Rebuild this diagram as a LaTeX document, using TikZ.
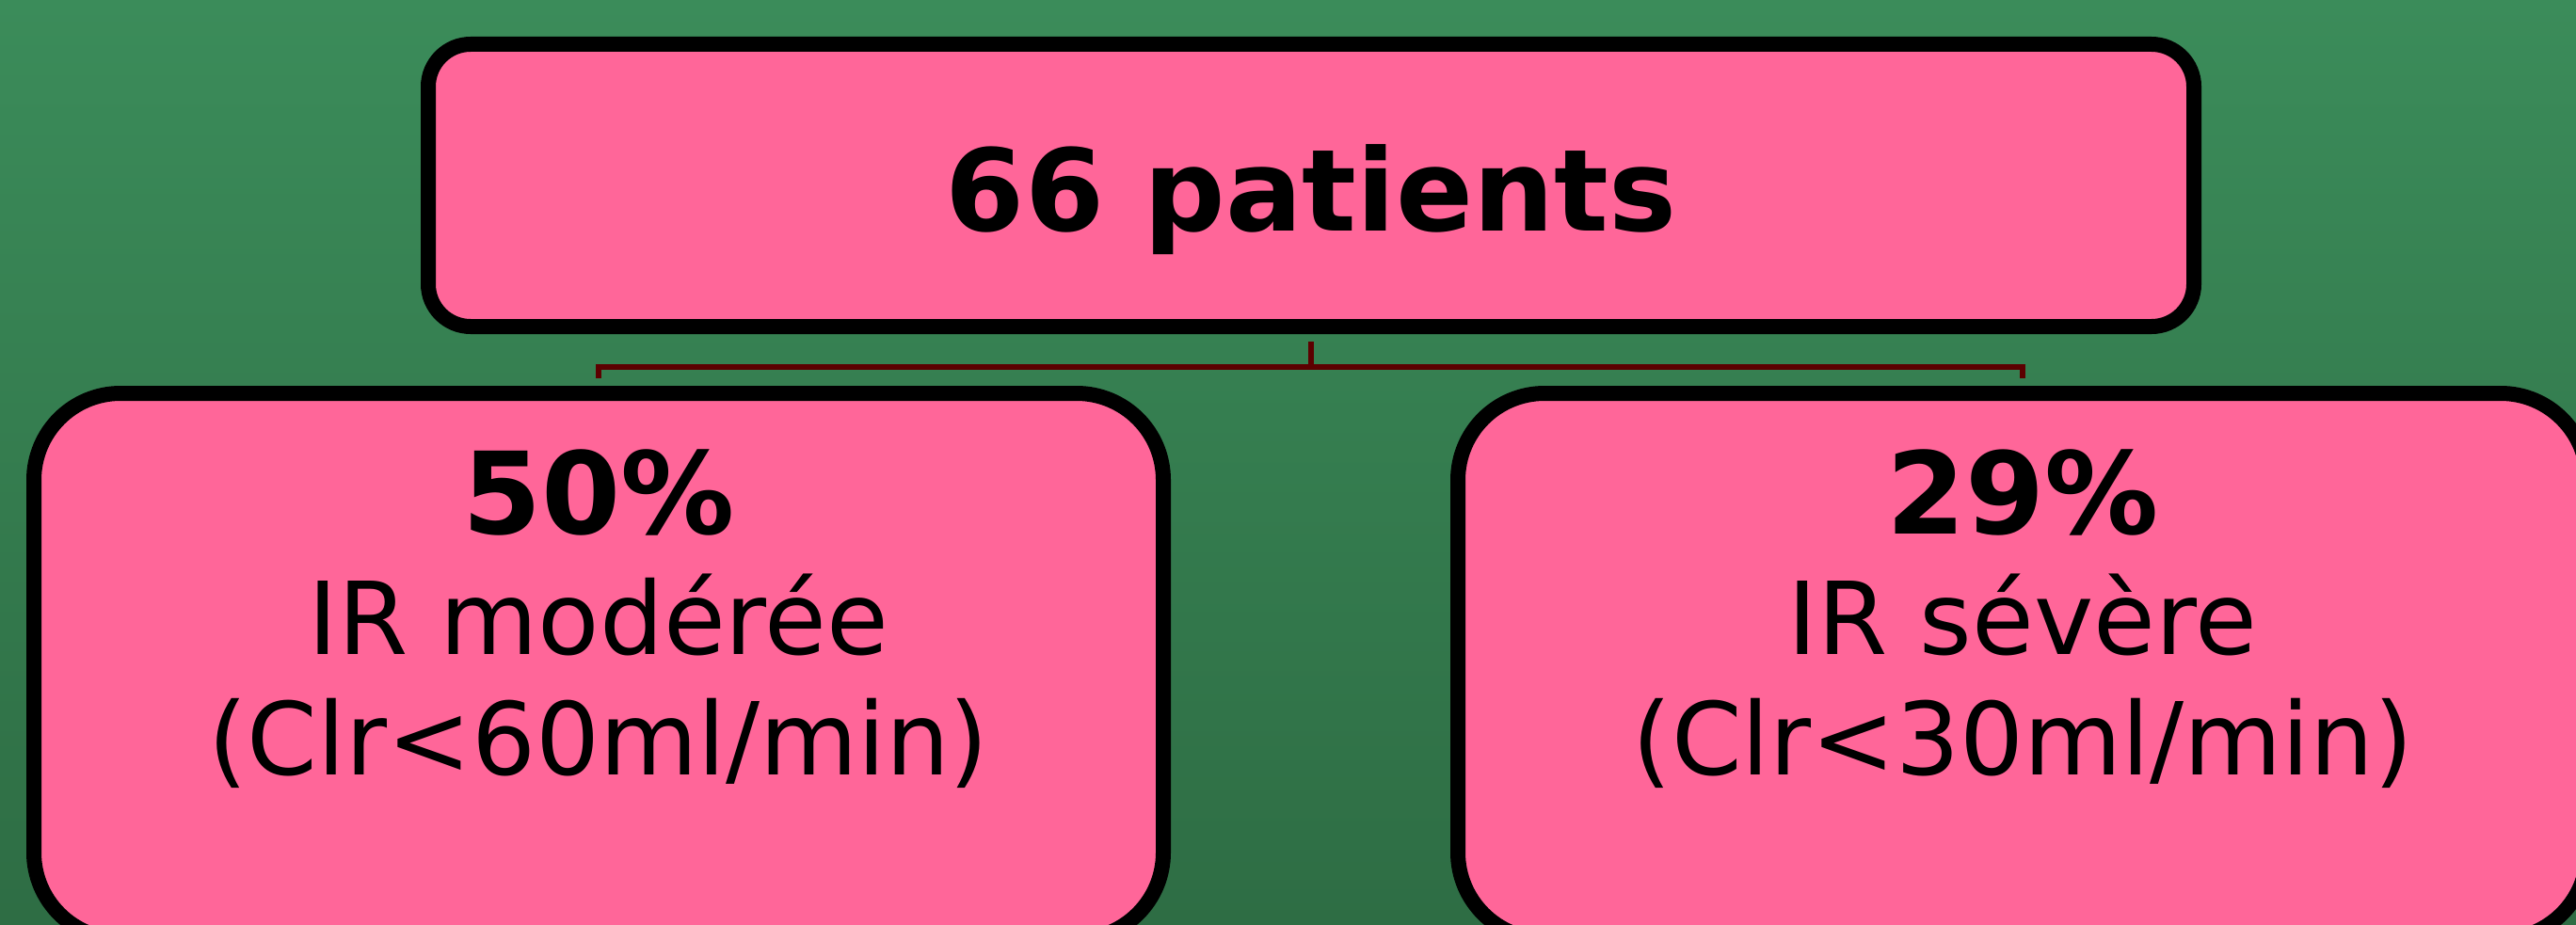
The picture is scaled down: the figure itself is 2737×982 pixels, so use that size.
\documentclass[tikz,border=0pt]{standalone}
\usepackage{fontspec}
\setmainfont{DejaVu Sans}
\definecolor{bgtop}{HTML}{3B8C5A}
\definecolor{bgbot}{HTML}{2E6D44}
\definecolor{boxpink}{HTML}{FF6699}
\definecolor{linkred}{HTML}{5C0000}
\tikzset{
  pinkbox/.style={draw=black, fill=boxpink, line width=16pt, rectangle, inner sep=0pt},
  topbox/.style={pinkbox, rounded corners=45pt, minimum width=1876pt, minimum height=300pt},
  lowbox/.style={pinkbox, rounded corners=92pt, minimum width=1200pt, minimum height=580pt},
  boldtxt/.style={anchor=base, inner sep=0pt, font=\bfseries\fontsize{121}{130}\selectfont},
  regtxt/.style={anchor=base, inner sep=0pt, font=\fontsize{107}{128}\selectfont},
  link/.style={draw=linkred, line width=6pt, shorten <=8pt, shorten >=8pt}
}
\begin{document}
\begin{tikzpicture}[x=1pt, y=-1pt]
\useasboundingbox (0,0) rectangle (2737,982);
\clip (0,0) rectangle (2737,982);
\shade[top color=bgtop, bottom color=bgbot] (0,0) rectangle (2737,982);
% boxes
\node[topbox] (top) at (1393,197) {};
\node[lowbox] (left) at (636,708) {};
\node[lowbox] (right) at (2149,708) {};
% connectors
\draw[link] (top.south) -- ++(0,35) -| (left.north);
\draw[link] (top.south) -- ++(0,35) -| (right.north);
% texts
\node[boldtxt] (t66) at (1393,245) {66 patients};
\node[boldtxt] (p50) at (636,567) {50\%};
\node[regtxt] (l1) at (636,695) {IR modérée};
\node[regtxt] (l2) at (636,823) {(Clr<60ml/min)};
\node[boldtxt] (p29) at (2149,567) {29\%};
\node[regtxt] (r1) at (2149,695) {IR sévère};
\node[regtxt] (r2) at (2149,823) {(Clr<30ml/min)};
\end{tikzpicture}
\end{document}
